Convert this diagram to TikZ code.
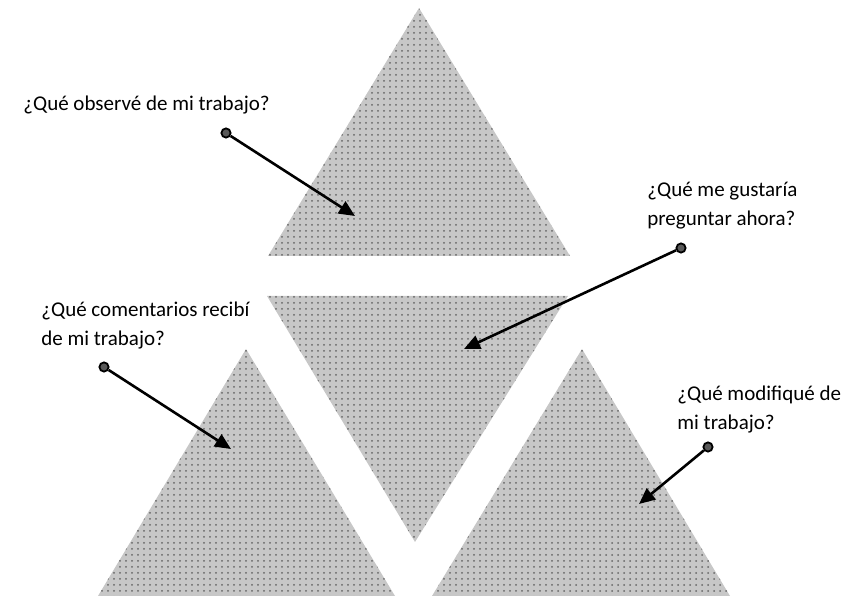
\documentclass[tikz,border=0pt]{standalone}
\usepackage{fontspec}
\setmainfont{Carlito}
\usetikzlibrary{arrows.meta,patterns}

\tikzset{
  pieza/.style={fill=black!22},
  grano/.style={pattern=dots, pattern color=black!60},
  punto/.style={circle, draw=black, fill=black!65, line width=0.9pt, inner sep=0pt, minimum size=4.6pt},
  flecha/.style={line width=1.3pt, -{Triangle[length=8pt,width=7pt]}},
  pregunta/.style={anchor=west, align=left, inner sep=0pt, font=\fontsize{10.5}{14.5}\selectfont}
}

\begin{document}
\begin{tikzpicture}[x=0.5pt,y=-0.5pt]
			%%%%% START %%%%%
			\useasboundingbox (0,0) rectangle (856,597);
			
			% arriba
			\fill[pieza] (419,8) -- (570,256) -- (268,256) -- cycle;
			\fill[grano] (419,8) -- (570,256) -- (268,256) -- cycle;
			
			% centro, invertido
			\fill[pieza] (267,296) -- (568,296) -- (415,542) -- cycle;
			\fill[grano] (267,296) -- (568,296) -- (415,542) -- cycle;
			
			% abajo izquierda
			\fill[pieza] (246,349) -- (395,596) -- (98,596) -- cycle;
			\fill[grano] (246,349) -- (395,596) -- (98,596) -- cycle;
			
			% abajo derecha
			\fill[pieza] (582,349) -- (730,596) -- (432,596) -- cycle;
			\fill[grano] (582,349) -- (730,596) -- (432,596) -- cycle;
			
			\node[pregunta] (observe) at (23,105) {¿Qué observé de mi trabajo?};
			\node[pregunta] (preguntar) at (647,206) {¿Qué me gustaría\\preguntar ahora?};
			\node[pregunta] (comentarios) at (41,326) {¿Qué comentarios recibí\\de mi trabajo?};
			\node[pregunta] (modifique) at (677,410) {¿Qué modifiqué de\\mi trabajo?};
			
			\node[punto] (p1) at (226,133) {};
			\node[punto] (p2) at (681,248) {};
			\node[punto] (p3) at (104,367) {};
			\node[punto] (p4) at (708,447) {};
			
			\coordinate (f1) at (355,216);
			\coordinate (f2) at (464,349);
			\coordinate (f3) at (231,449);
			\coordinate (f4) at (639,504);
			
			\draw[flecha] (p1) -- (f1);
			\draw[flecha] (p2) -- (f2);
			\draw[flecha] (p3) -- (f3);
			\draw[flecha] (p4) -- (f4);
			
			%%%%% END %%%%%
\end{tikzpicture}
\end{document}
